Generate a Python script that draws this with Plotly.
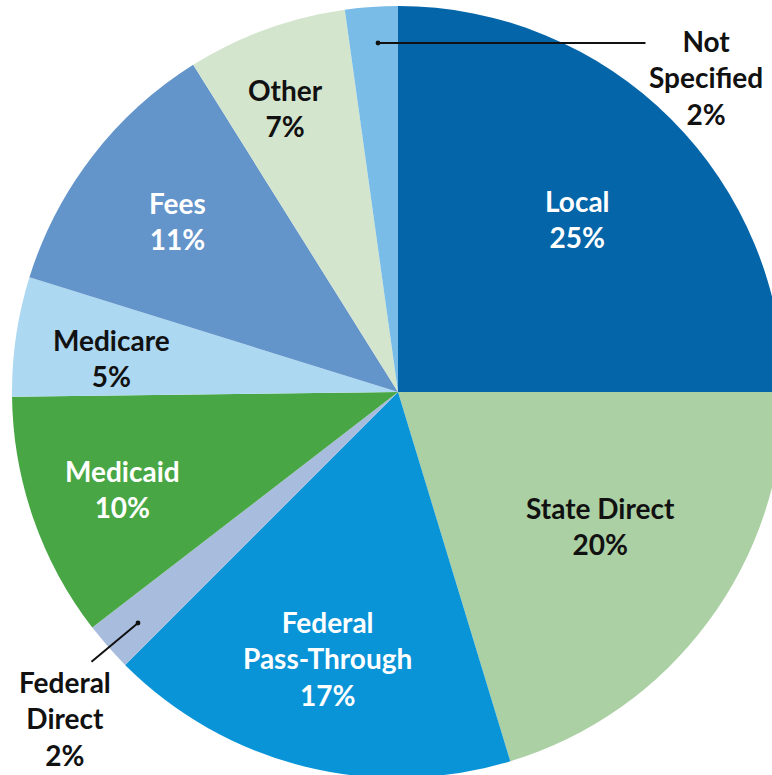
import plotly.graph_objects as go

# ---- data ----
categories = ["Local", "State Direct", "Federal Pass-Through", "Federal Direct",
              "Medicaid", "Medicare", "Fees", "Other", "Not Specified"]
shares = [25.0, 20.3, 17.2, 2.05, 10.25, 5.0, 11.3, 6.7, 2.2]
pct_labels = ["25%", "20%", "17%", "2%", "10%", "5%", "11%", "7%", "2%"]
label_text = ["Local", "State Direct", "Federal<br>Pass-Through", "Federal<br>Direct",
              "Medicaid", "Medicare", "Fees", "Other", "Not<br>Specified"]

# ---- style ----
colors = ["#0465A9", "#ABD0A4", "#0A94D8", "#A8BCDD", "#48A744",
          "#ADD8F2", "#6394CA", "#D4E5CE", "#78BCE7"]
text_colors = ["white", "#111111", "white", "#111111", "white",
               "#111111", "white", "#111111", "#111111"]
# label centre positions in page pixels
label_pos = [(577, 219), (600, 526), (327, 658), (65, 718), (122, 489),
             (112, 358), (177, 221), (285, 108), (706, 77)]

W, H = 784, 778
ML, MT = 12, 6
PW, PH = W - ML, H - MT


def px(x, y):
    return (x - ML) / PW, 1 - (y - MT) / PH


fig = go.Figure(go.Pie(
    labels=categories,
    values=shares,
    sort=False,
    direction="clockwise",
    rotation=0,
    marker=dict(colors=colors, line=dict(width=0)),
    textinfo="none",
    hoverinfo="label+percent",
    showlegend=False,
))

annotations = []
for name, pct, (x, y), c in zip(label_text, pct_labels, label_pos, text_colors):
    ax, ay = px(x, y)
    annotations.append(dict(
        x=ax, y=ay, xref="paper", yref="paper",
        text=f"<b>{name}<br>{pct}</b>",
        showarrow=False, align="center",
        font=dict(family="Lato", size=28, color=c),
        xanchor="center", yanchor="middle",
    ))

# leader lines (dot at slice end)
leaders = [((378, 43), (647, 43)), ((138, 623), (90, 663))]
for (hx, hy), (tx, ty) in leaders:
    ax, ay = px(hx, hy)
    annotations.append(dict(
        x=ax, y=ay, xref="paper", yref="paper", text="",
        showarrow=True, arrowhead=6, arrowsize=0.6, arrowwidth=2,
        arrowcolor="#111111", ax=tx - hx, ay=ty - hy, standoff=0,
    ))

fig.update_layout(
    width=W, height=H,
    margin=dict(l=ML, r=0, t=MT, b=0, pad=0),
    paper_bgcolor="white", plot_bgcolor="white",
    annotations=annotations,
)

fig.write_html("out.html",
               config={"displayModeBar": False},
               post_script="document.body.style.margin='0';document.body.style.overflow='hidden';")
